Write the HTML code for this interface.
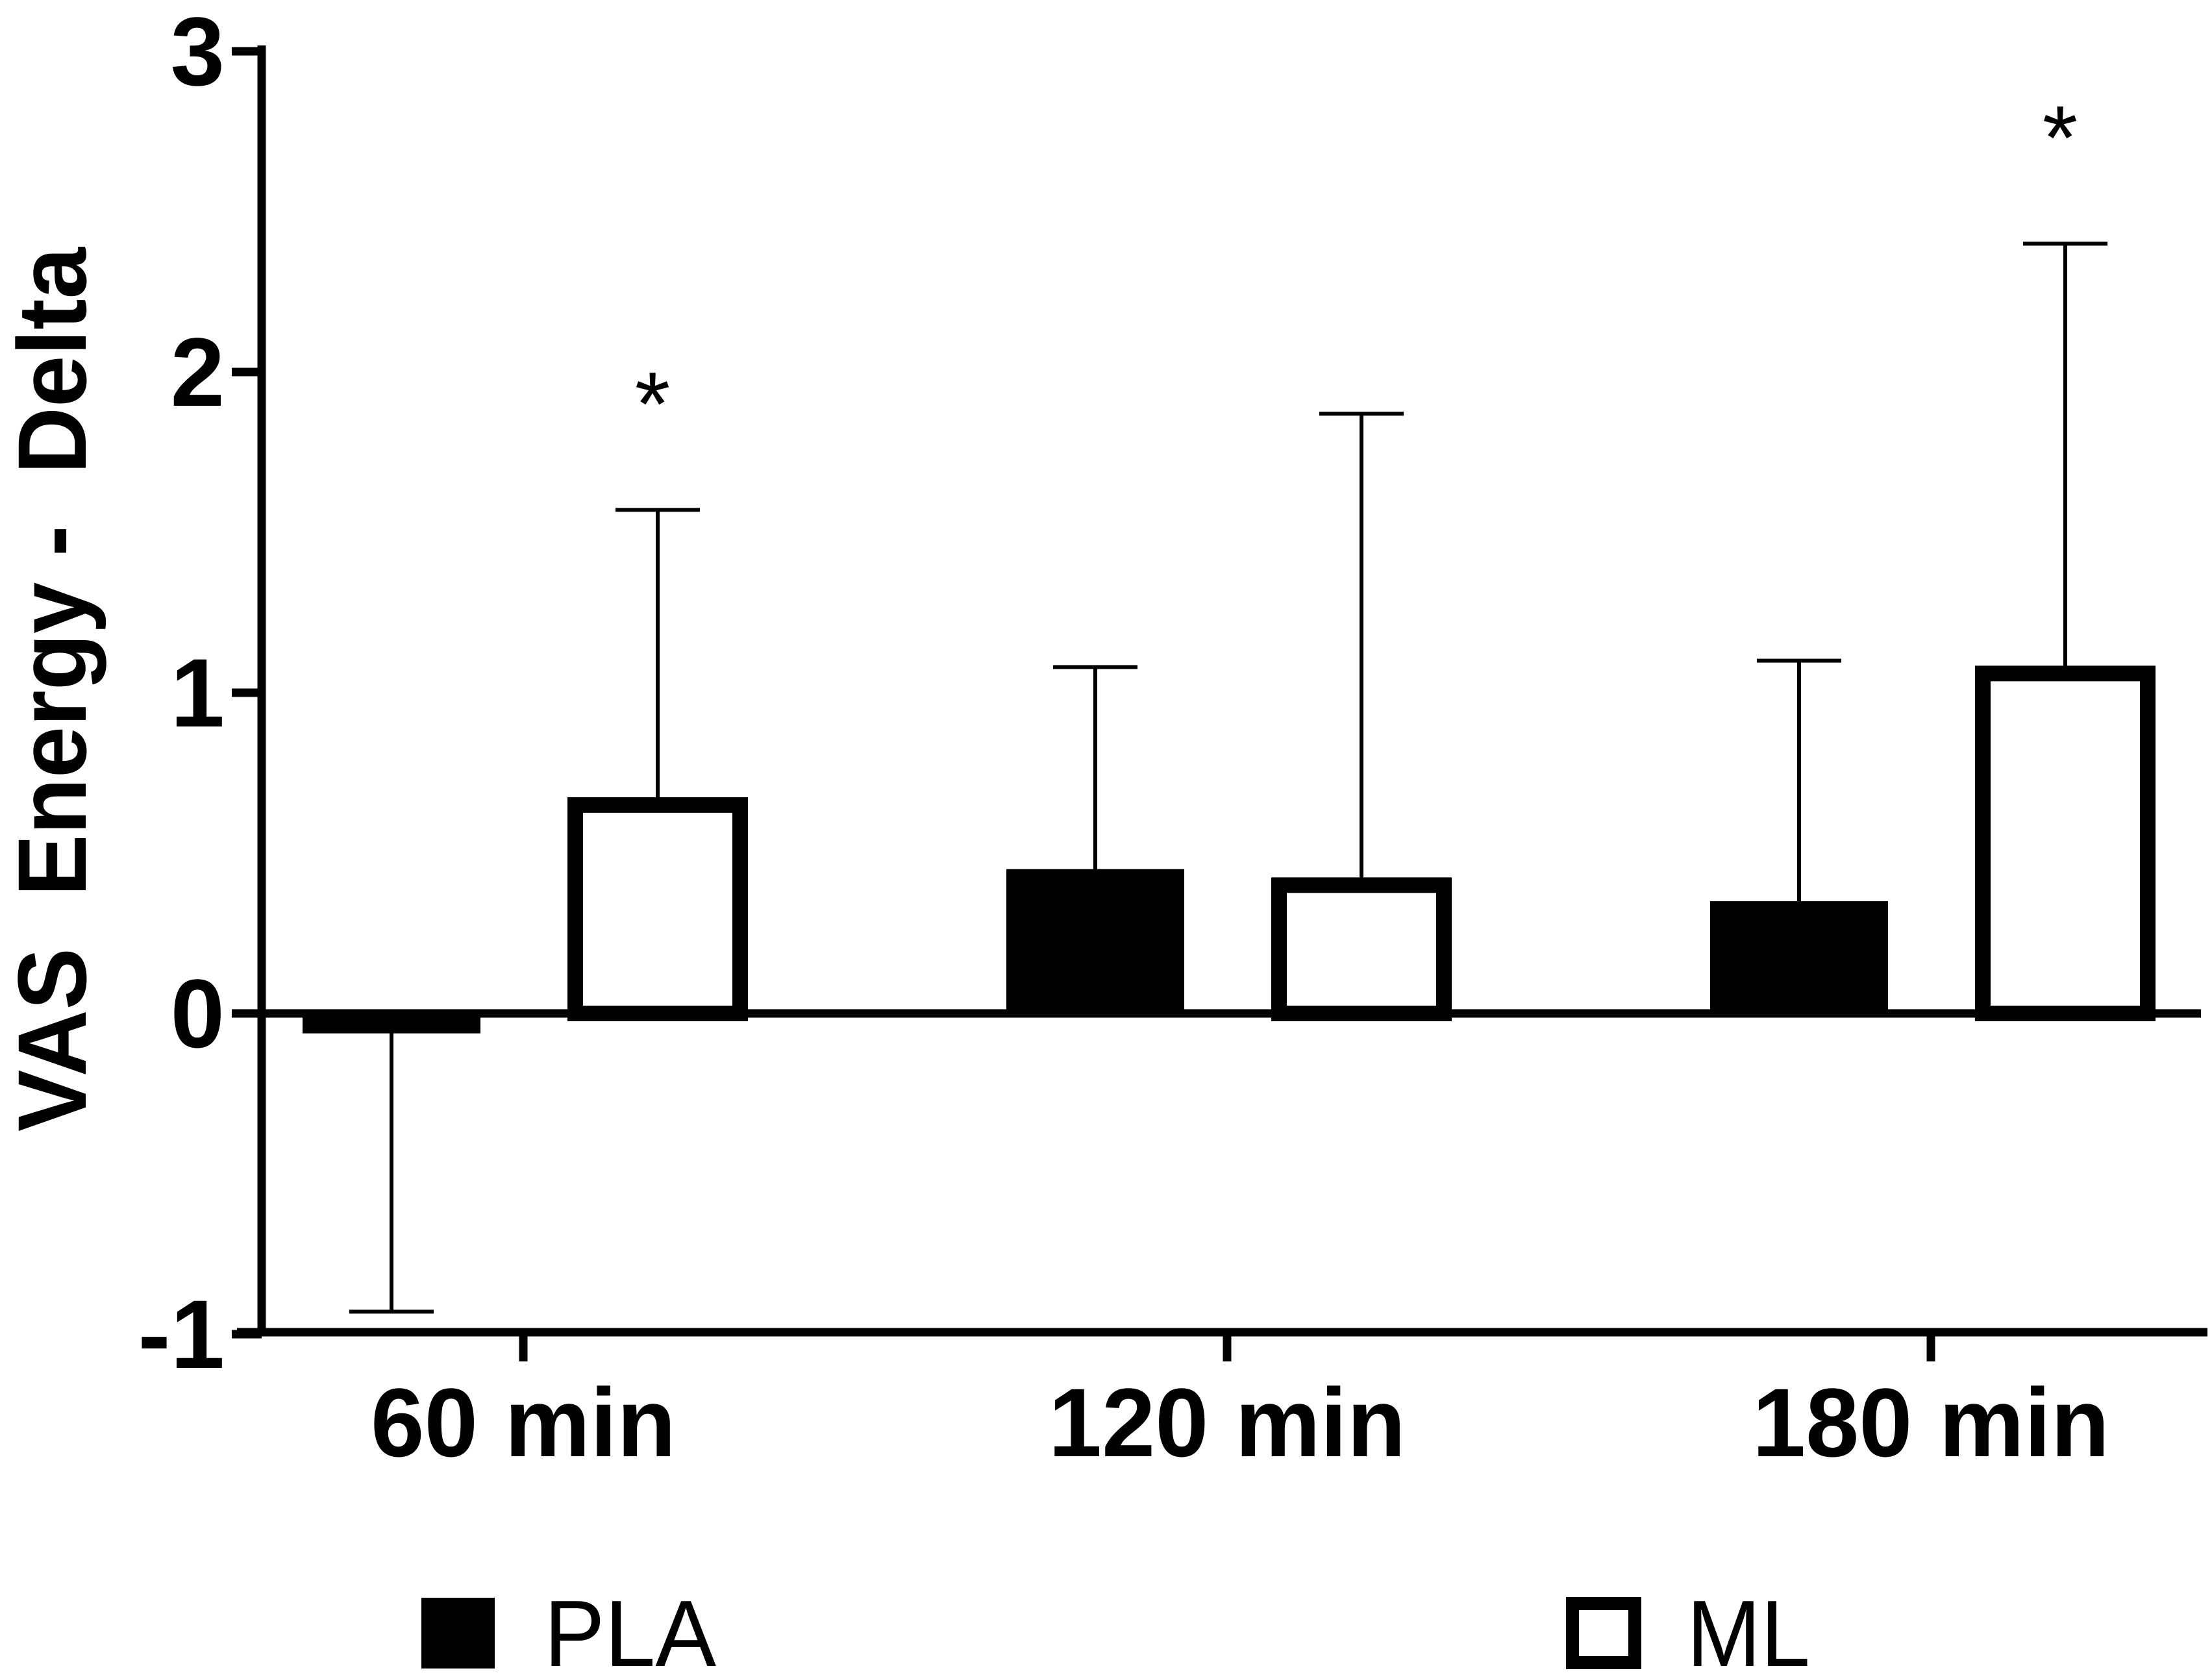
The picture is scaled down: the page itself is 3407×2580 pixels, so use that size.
<!DOCTYPE html>
<html><head><meta charset="utf-8"><style>html,body{margin:0;padding:0;background:#fff}svg{display:block}</style></head>
<body>
<svg id="chart" width="3407" height="2580" viewBox="0 0 3407 2580" xmlns="http://www.w3.org/2000/svg" font-family="'Liberation Sans Narrow','Liberation Sans',sans-serif">
<g id="marks"></g>
</svg>
<script>
const categories = ["60 min", "120 min", "180 min"];
const plaValues = [-0.05, 0.45, 0.35];
const plaErrors = [-0.93, 1.08, 1.10];
const mlValues = [0.65, 0.40, 1.06];
const mlErrors = [1.57, 1.87, 2.40];
const significant = [true, false, true];
const yTicks = [-1, 0, 1, 2, 3];

const NS = "http://www.w3.org/2000/svg";
const g = document.getElementById('marks');
const Y0 = 1561, UNIT = 494;
function y(v){ return Y0 - UNIT * v; }
const GROUP_W = 1084;
function xGroup(i){ return 466 + GROUP_W * i; }
function mk(tag, attrs, parent){ const e=document.createElementNS(NS,tag); for(const k in attrs) e.setAttribute(k,attrs[k]); (parent||g).appendChild(e); return e; }

let e;
e = mk('line',{x1:403,y1:70,x2:403,y2:2058,stroke:'#000','stroke-width':13});


e = mk('line',{x1:365,y1:2052,x2:3400,y2:2052,stroke:'#000','stroke-width':13});


e = mk('line',{x1:403,y1:Y0,x2:3390,y2:Y0,stroke:'#000','stroke-width':13});



yTicks.forEach(v=>{
  e = mk('line',{x1:357,y1:y(v),x2:403,y2:y(v),stroke:'#000','stroke-width':13});
  
  
  e = mk('text',{x:346,y:y(v)+52,'text-anchor':'end','font-size':150,'font-weight':'bold'});
  e.textContent = String(v);
  
  
});

categories.forEach((c,i)=>{
  const xc = 806 + GROUP_W * i;
  e = mk('line',{x1:xc,y1:2052,x2:xc,y2:2097,stroke:'#000','stroke-width':13});
  
  
  e = mk('text',{x:xc,y:2243,'text-anchor':'middle','font-size':150,'font-weight':'bold',textLength:c.length>6?550:470,lengthAdjust:'spacingAndGlyphs'});
  e.textContent = c;
  
  

  const px = xGroup(i), pw = 274;
  const pv = plaValues[i];
  const py1 = Math.min(y(pv), Y0), py2 = Math.max(y(pv), Y0);
  const pcx = px + pw/2;
  e = mk('line',{x1:pcx,y1:y(pv),x2:pcx,y2:y(plaErrors[i]),stroke:'#000','stroke-width':6});
  
  
  e = mk('line',{x1:pcx-65,y1:y(plaErrors[i]),x2:pcx+65,y2:y(plaErrors[i]),stroke:'#000','stroke-width':6});
  
  
  e = mk('rect',{x:px,y:py1,width:pw,height:Math.max(py2-py1,1)+ (pv<0?6:0),fill:'#000'});
  
  

  const mx = xGroup(i) + 420, mw = 254;
  const mv = mlValues[i];
  const mcx = mx + mw/2;
  e = mk('line',{x1:mcx,y1:y(mv),x2:mcx,y2:y(mlErrors[i]),stroke:'#000','stroke-width':6});
  
  
  e = mk('line',{x1:mcx-65,y1:y(mlErrors[i]),x2:mcx+65,y2:y(mlErrors[i]),stroke:'#000','stroke-width':6});
  
  
  e = mk('rect',{x:mx,y:y(mv),width:mw,height:Y0-y(mv),fill:'#fff',stroke:'#000','stroke-width':24});
  
  
  if(significant[i]){
    e = mk('text',{x:mcx-8,y:y(mlErrors[i])-115,'text-anchor':'middle','font-size':140,'font-family':'Liberation Sans, sans-serif'});
    e.textContent = '*';
    
    
  }
});

e = mk('text',{x:0,y:0,transform:'translate(132,1062) rotate(-90)','text-anchor':'middle','font-size':150,'font-weight':'bold',textLength:1362,lengthAdjust:'spacingAndGlyphs'});
e.textContent = 'VAS\u00a0\u00a0Energy\u00a0-\u00a0\u00a0Delta';



e = mk('rect',{x:649,y:2461,width:113,height:109,fill:'#000'});


e = mk('text',{x:838,y:2566,'font-size':145,textLength:265,lengthAdjust:'spacingAndGlyphs'});
e.textContent = 'PLA';


e = mk('rect',{x:2422,y:2470,width:96,height:91,fill:'#fff',stroke:'#000','stroke-width':20});


e = mk('text',{x:2598,y:2566,'font-size':145,textLength:190,lengthAdjust:'spacingAndGlyphs'});
e.textContent = 'ML';


</script>
</body></html>
